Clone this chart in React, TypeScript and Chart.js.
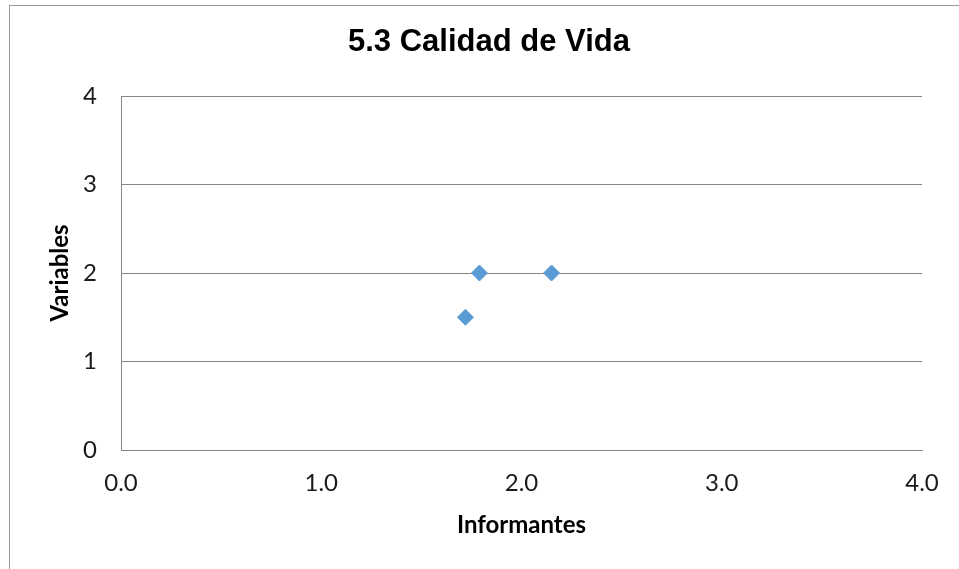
import React, { useEffect, useRef } from "react";
import { Chart, registerables } from "chart.js";

Chart.register(...registerables);

const chartTitle = "5.3 Calidad de Vida";
const xAxisTitle = "Informantes";
const yAxisTitle = "Variables";
const xValues = [1.79, 2.15, 1.72];
const yValues = [2, 2, 1.5];
const xTickValues = [0, 1, 2, 3, 4];
const yTickValues = [0, 1, 2, 3, 4];

export default function App() {
  const ref = useRef<HTMLCanvasElement | null>(null);

  useEffect(() => {
    if (!ref.current) return;
    const points = xValues.map((x, i) => ({ x, y: yValues[i] }));
    const gridColor = "#868686";
    const chart = new Chart(ref.current, {
      type: "scatter",
      data: {
        datasets: [
          {
            label: "Serie",
            data: points,
            pointStyle: "rectRot",
            pointRadius: 8,
            pointHoverRadius: 8,
            backgroundColor: "#5B9BD5",
            borderColor: "#5B9BD5",
            borderWidth: 1,
          },
        ],
      },
      options: {
        responsive: false,
        animation: false,
        layout: { padding: { left: 56, right: 37, top: 0, bottom: 0 } },
        plugins: {
          legend: { display: false },
          tooltip: { enabled: false },
          title: {
            display: true,
            text: chartTitle,
            color: "#000",
            font: { family: "'Liberation Sans', Arial, sans-serif", size: 31, weight: "bold", lineHeight: 1.2 },
            padding: { top: 24, bottom: 34.8 },
          },
        },
        scales: {
          x: {
            type: "linear",
            min: xTickValues[0],
            max: xTickValues[xTickValues.length - 1],
            afterBuildTicks: (s: any) => {
              s.ticks = xTickValues.map((v) => ({ value: v }));
            },
            afterFit: (s: any) => {
              s.height = 119;
            },
            grid: { display: false, drawTicks: false },
            border: { display: true, color: gridColor, width: 1 },
            ticks: {
              padding: 19,
              color: "#1a1a1a",
              font: { family: "Lato, 'Open Sans', sans-serif", size: 24 },
              callback: (v: any) => Number(v).toFixed(1),
              maxRotation: 0,
            },
            title: {
              display: true,
              text: xAxisTitle,
              color: "#000",
              font: { family: "Lato, 'Open Sans', sans-serif", size: 24, weight: "bold", lineHeight: 1.2 },
              padding: { top: 0, bottom: 29.6 },
            },
          },
          y: {
            type: "linear",
            min: yTickValues[0],
            max: yTickValues[yTickValues.length - 1],
            afterBuildTicks: (s: any) => {
              s.ticks = yTickValues.map((v) => ({ value: v }));
            },
            afterFit: (s: any) => {
              s.width = 65;
            },
            grid: { display: true, color: gridColor, lineWidth: 1, drawTicks: false },
            border: { display: true, color: gridColor, width: 1 },
            ticks: {
              padding: 24,
              color: "#1a1a1a",
              font: { family: "Lato, 'Open Sans', sans-serif", size: 24 },
              callback: (v: any) => String(v),
            },
            title: {
              display: true,
              text: yAxisTitle,
              color: "#000",
              font: { family: "Lato, 'Open Sans', sans-serif", size: 24, weight: "bold", lineHeight: 1.2 },
              padding: { top: -10.4, bottom: 0 },
            },
          },
        },
      },
    });
    return () => chart.destroy();
  }, []);

  return (
    <div
      style={{
        position: "absolute",
        left: 0,
        top: 0,
        width: 959,
        height: 569,
        overflow: "hidden",
        background: "#fff",
      }}
    >
      <div
        style={{
          position: "absolute",
          left: 9,
          top: 5,
          width: 1100,
          height: 800,
          border: "1px solid #9a9a9a",
          boxSizing: "border-box",
        }}
      />
      <canvas
        ref={ref}
        width={959}
        height={569}
        style={{ position: "absolute", left: 0, top: 0, width: 959, height: 569 }}
      />
    </div>
  );
}
